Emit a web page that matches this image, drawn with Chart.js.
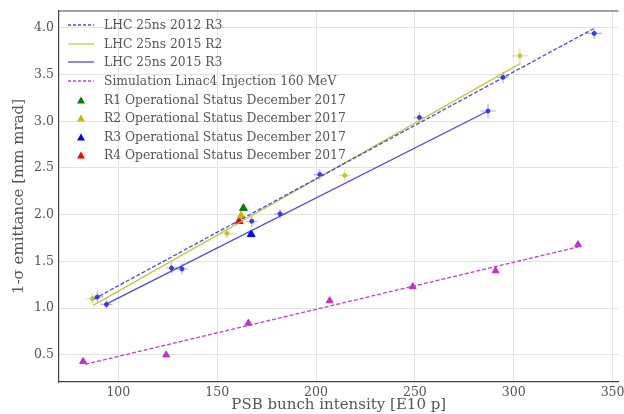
<!DOCTYPE html>
<html>
<head>
<meta charset="utf-8">
<script src="https://cdn.jsdelivr.net/npm/chart.js@4/dist/chart.umd.min.js"></script>
<style>
html, body { margin: 0; padding: 0; background: #fff; }
#wrap { position: relative; width: 624px; height: 414px; }
#legend { position: absolute; left: 66px; top: 16px; font-family: "DejaVu Serif"; font-size: 12.3px; color: #555; }
#legend .row { height: 18.6px; display: flex; align-items: center; white-space: nowrap; }
#legend svg { width: 30px; height: 12px; margin-right: 8px; }
</style>
</head>
<body>
<div id="wrap">
  <canvas id="myChart" width="624" height="414"></canvas>
  <div id="legend"></div>
</div>
<script>
// axis ticks
var xTicks = [100, 150, 200, 250, 300, 350];
var yTicks = [0.5, 1.0, 1.5, 2.0, 2.5, 3.0, 3.5, 4.0];

// LHC 25ns 2012 R3 (measurements + fit)
var r3_2012_x = [89.4, 167.5, 201.9, 252.3, 294.6, 340.7];
var r3_2012_y = [1.12, 1.93, 2.43, 3.04, 3.47, 3.94];
var r3_2012_ex = [3, 3, 3, 3, 3, 4];
var r3_2012_ey = [0.06, 0.06, 0.06, 0.06, 0.06, 0.06];
var r3_2012_fitX = [87.8, 340.3];
var r3_2012_fitY = [1.10, 3.99];

// LHC 25ns 2015 R2
var r2_2015_x = [86.9, 154.9, 214.5, 303.1];
var r2_2015_y = [1.10, 1.80, 2.42, 3.70];
var r2_2015_ex = [3, 3, 3, 4];
var r2_2015_ey = [0.06, 0.06, 0.06, 0.08];
var r2_2015_fitX = [87.3, 303.4];
var r2_2015_fitY = [1.03, 3.62];

// LHC 25ns 2015 R3
var r3_2015_x = [94.0, 126.9, 132.2, 181.8, 287.0];
var r3_2015_y = [1.04, 1.43, 1.42, 2.01, 3.11];
var r3_2015_ex = [3, 3, 3, 3, 4];
var r3_2015_ey = [0.05, 0.06, 0.06, 0.05, 0.08];
var r3_2015_fitX = [93.6, 287.0];
var r3_2015_fitY = [1.04, 3.11];

// Simulation Linac4 Injection 160 MeV
var sim_x = [82.2, 124.2, 165.8, 206.9, 248.9, 290.8, 332.5];
var sim_y = [0.43, 0.50, 0.84, 1.08, 1.23, 1.40, 1.68];
var sim_fitX = [83.3, 332.5];
var sim_fitY = [0.40, 1.655];

// Operational status December 2017 (R1..R4)
var op_labels = ['R1', 'R2', 'R3', 'R4'];
var op_x = [163.3, 162.1, 167.2, 161.1];
var op_y = [2.07, 1.99, 1.79, 1.93];
var op_colors = ['#008000', '#bfbf00', '#0000ff', '#ff0000'];

function pts(xs, ys) {
    return xs.map(function (v, i) { return { x: v, y: ys[i] }; });
}

var blue = 'rgba(40,40,240,0.85)';
var olive = 'rgba(190,190,30,0.85)';
var magenta = '#c43ec8';

var datasets = [
    { label: 'LHC 25ns 2012 R3', type: 'line', data: pts(r3_2012_fitX, r3_2012_fitY), borderColor: blue, borderWidth: 1.3, borderDash: [4, 2], pointRadius: 0, legend: 'dash' },
    { label: 'LHC 25ns 2015 R2', type: 'line', data: pts(r2_2015_fitX, r2_2015_fitY), borderColor: olive, borderWidth: 1.3, pointRadius: 0, legend: 'line' },
    { label: 'LHC 25ns 2015 R3', type: 'line', data: pts(r3_2015_fitX, r3_2015_fitY), borderColor: blue, borderWidth: 1.3, pointRadius: 0, legend: 'line' },
    { label: 'Simulation Linac4 Injection 160 MeV', type: 'line', data: pts(sim_fitX, sim_fitY), borderColor: magenta, borderWidth: 1.3, borderDash: [4, 2], pointRadius: 0, legend: 'dash' },
    { label: '', data: pts(r3_2012_x, r3_2012_y), errX: r3_2012_ex, errY: r3_2012_ey, errColor: 'rgba(60,60,240,0.4)', backgroundColor: blue, borderColor: blue, pointRadius: 2 },
    { label: '', data: pts(r2_2015_x, r2_2015_y), errX: r2_2015_ex, errY: r2_2015_ey, errColor: 'rgba(190,190,30,0.45)', backgroundColor: olive, borderColor: olive, pointRadius: 2 },
    { label: '', data: pts(r3_2015_x, r3_2015_y), errX: r3_2015_ex, errY: r3_2015_ey, errColor: 'rgba(60,60,240,0.4)', backgroundColor: blue, borderColor: blue, pointRadius: 2 },
    { label: '', data: pts(sim_x, sim_y), pointStyle: 'triangle', backgroundColor: '#c030c8', borderColor: '#c030c8', pointRadius: 4 }
];
op_labels.forEach(function (r, i) {
    datasets.push({
        label: r + ' Operational Status December 2017',
        data: [{ x: op_x[i], y: op_y[i] }],
        pointStyle: 'triangle', backgroundColor: op_colors[i], borderColor: op_colors[i], pointRadius: 4.5,
        legend: 'tri'
    });
});

var errorBars = {
    id: 'errorBars',
    beforeDatasetsDraw: function (chart) {
        var ctx = chart.ctx, x = chart.scales.x, y = chart.scales.y;
        chart.data.datasets.forEach(function (ds) {
            if (!ds.errX) return;
            ctx.save();
            ctx.strokeStyle = ds.errColor;
            ctx.lineWidth = 1.2;
            ds.data.forEach(function (p, j) {
                var px = x.getPixelForValue(p.x), py = y.getPixelForValue(p.y);
                ctx.beginPath();
                ctx.moveTo(x.getPixelForValue(p.x - ds.errX[j]), py);
                ctx.lineTo(x.getPixelForValue(p.x + ds.errX[j]), py);
                ctx.moveTo(px, y.getPixelForValue(p.y - ds.errY[j]));
                ctx.lineTo(px, y.getPixelForValue(p.y + ds.errY[j]));
                ctx.stroke();
            });
            ctx.restore();
        });
    }
};

var topSpine = {
    id: 'topSpine',
    afterDraw: function (chart) {
        var a = chart.chartArea, ctx = chart.ctx;
        ctx.save();
        ctx.strokeStyle = '#444';
        ctx.lineWidth = 1.2;
        ctx.beginPath();
        ctx.moveTo(a.left, a.top);
        ctx.lineTo(a.right, a.top);
        ctx.stroke();
        ctx.restore();
    }
};

var tickFont = { family: 'DejaVu Serif', size: 12.5 };
var titleFont = { family: 'DejaVu Serif', size: 15 };

var config = {
    type: 'scatter',
    data: { datasets: datasets },
    options: {
        responsive: false,
        animation: false,
        layout: { padding: { top: 11, right: 0, left: 0, bottom: 0 } },
        plugins: { legend: { display: false }, tooltip: { enabled: false } },
        scales: {
            x: {
                min: 70, max: 353,
                afterBuildTicks: function (s) { s.ticks = xTicks.map(function (v) { return { value: v }; }); },
                afterFit: function (s) { s.height = 32; s.paddingLeft = 0; s.paddingRight = 0; },
                grid: { color: '#e3e3e3', lineWidth: 1, drawTicks: false },
                border: { color: '#444', width: 1.2 },
                ticks: { font: tickFont, color: '#555', padding: 3, maxRotation: 0, autoSkip: false },
                title: { display: true, text: 'PSB bunch intensity [E10 p]', font: titleFont, color: '#555', padding: { top: 0, bottom: 0 } }
            },
            y: {
                min: 0.21, max: 4.18,
                afterBuildTicks: function (s) { s.ticks = yTicks.map(function (v) { return { value: v }; }); },
                afterFit: function (s) { s.width = 59; s.paddingTop = 0; s.paddingBottom = 0; },
                grid: { color: '#e3e3e3', lineWidth: 1, drawTicks: false },
                border: { color: '#444', width: 1.2 },
                ticks: { font: tickFont, color: '#555', padding: 5, callback: function (v) { return v.toFixed(1); } },
                title: { display: true, text: '1-σ emittance [mm mrad]', font: titleFont, color: '#555', padding: { top: 10, bottom: 0 } }
            }
        }
    },
    plugins: [errorBars, topSpine]
};

var ctx = document.getElementById('myChart');
var chart = new Chart(ctx, config);

// legend built from the labelled datasets
var legend = document.getElementById('legend');
datasets.forEach(function (ds) {
    if (!ds.legend) return;
    var sw;
    if (ds.legend === 'tri') {
        sw = '<svg viewBox="0 0 30 12"><polygon points="15,2.5 19,9.5 11,9.5" fill="' + ds.backgroundColor + '"/></svg>';
    } else {
        var dash = ds.legend === 'dash' ? ' stroke-dasharray="3,2"' : '';
        sw = '<svg viewBox="0 0 30 12"><line x1="2" y1="6" x2="28" y2="6" stroke="' + ds.borderColor + '" stroke-width="1.3"' + dash + '/></svg>';
    }
    var row = document.createElement('div');
    row.className = 'row';
    row.innerHTML = sw + '<span>' + ds.label + '</span>';
    legend.appendChild(row);
});
</script>
</body>
</html>
